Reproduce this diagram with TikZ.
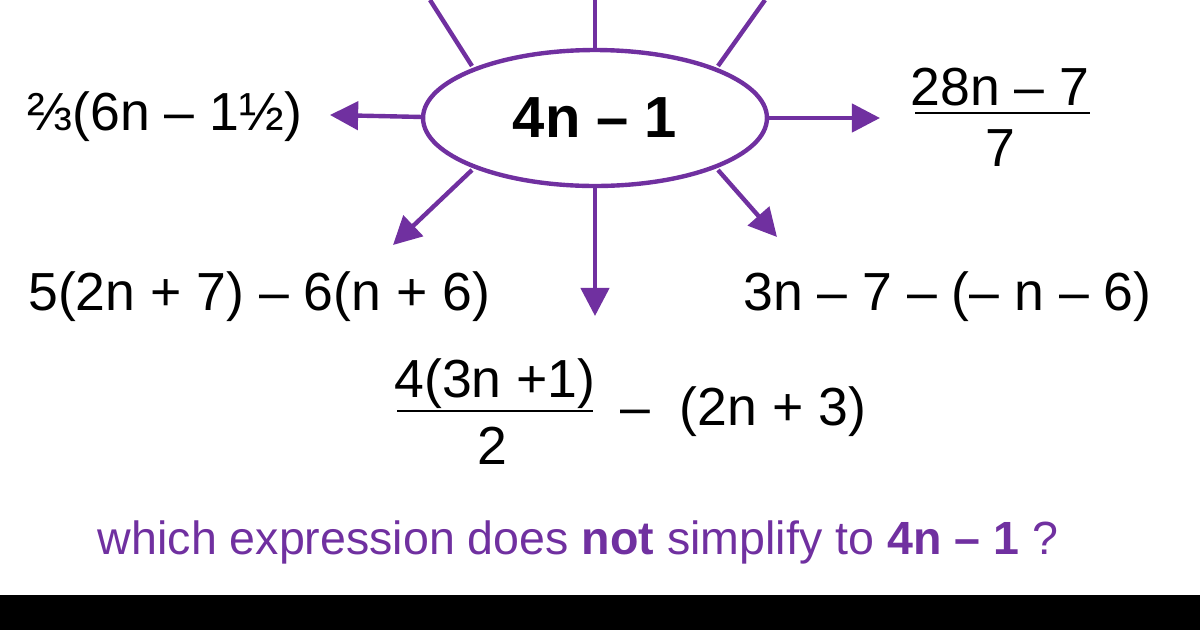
\documentclass[tikz,border=0pt]{standalone}
\usepackage{fontspec}
\setmainfont{Liberation Sans}
\usetikzlibrary{arrows.meta,shapes.geometric}
\definecolor{pur}{HTML}{7030A0}
\begin{document}
\begin{tikzpicture}[x=0.02cm,y=-0.02cm,
  conn/.style={pur,line width=2.5pt,-{Triangle[length=16pt,width=16pt]}},
  plain/.style={pur,line width=2.5pt},
  expr/.style={font=\fontsize{30.5}{36}\selectfont,inner sep=0pt}]
\useasboundingbox (0,0) rectangle (1200,630);
\fill[black] (0,595) rectangle (1200,630);
\node[draw=pur,line width=2.5pt,ellipse,minimum width=6.88cm,minimum height=2.72cm,inner sep=0,font=\fontsize{33}{38}\selectfont\bfseries] (c) at (595,118) {4n – 1};
\coordinate (cl) at (423,117);
\coordinate (cr) at (767,118);
\coordinate (cdl) at (472,170);
\coordinate (cd) at (595,186);
\coordinate (cdr) at (718,170);
\coordinate (cul) at (472,66);
\coordinate (cu) at (595,50);
\coordinate (cur) at (718,66);
\coordinate (ul) at (430,0);
\coordinate (u) at (595,0);
\coordinate (ur) at (765,0);
\node[expr] (a) at (165,117) {⅔(6n – 1½)};
\node[expr,anchor=west] (b) at (28,297) {5(2n + 7) – 6(n + 6)};
\node[expr,anchor=west] (e) at (743,297) {3n – 7 – (– n – 6)};
\node[expr] (f1) at (1000,87) {28n – 7};
\node[expr] (f2) at (1000,148) {7};
\draw[line width=1.2pt] (915,113) -- (1090,113);
\node[expr] (g1) at (495,384) {4(3n +1)};
\node[expr] (g2) at (492,446) {2};
\draw[line width=1.2pt] (397,411) -- (593,411);
\node[expr,anchor=west] (g3) at (620,412) {–\ \ (2n + 3)};
\coordinate (ta) at (330,115);
\coordinate (tr) at (880,118);
\coordinate (tdl) at (393,245);
\coordinate (td) at (595,316);
\coordinate (tdr) at (777,237);
\draw[conn] (cl) -- (ta);
\draw[conn] (cr) -- (tr);
\draw[conn] (cdl) -- (tdl);
\draw[conn] (cd) -- (td);
\draw[conn] (cdr) -- (tdr);
\draw[plain] (cul) -- (ul);
\draw[plain] (cu) -- (u);
\draw[plain] (cur) -- (ur);
\node[pur,font=\fontsize{26.5}{30}\selectfont] (q) at (578,542) {which expression does \textbf{not} simplify to \textbf{4n – 1} ?};
\end{tikzpicture}
\end{document}
